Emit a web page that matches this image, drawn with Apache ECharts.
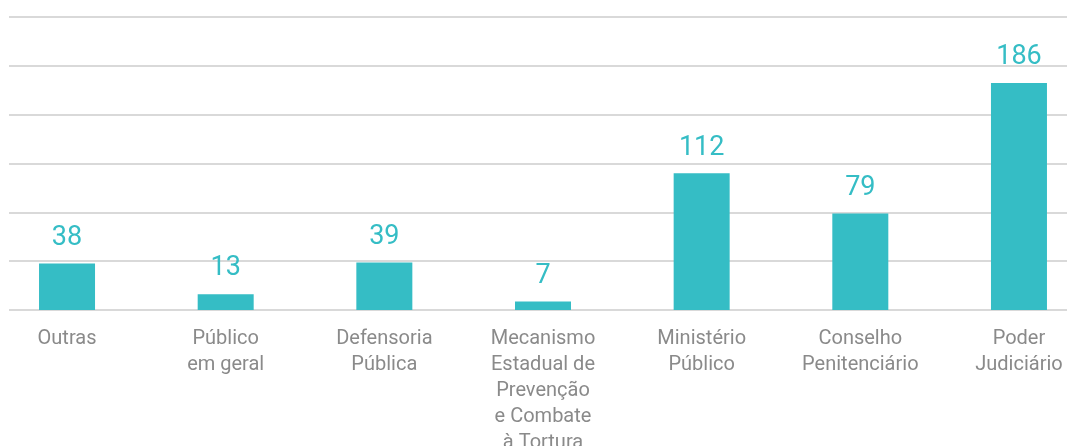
<!DOCTYPE html>
<html>
<head>
<meta charset="utf-8">
<script src="https://cdn.jsdelivr.net/npm/echarts@6/dist/echarts.min.js"></script>
<style>
  html, body { margin: 0; padding: 0; background: #fff; }
  #chart { width: 1067px; height: 446px; }
</style>
</head>
<body>
<div id="chart"></div>
<script>
// data
const categories = [
    'Outras',
    'Público\nem geral',
    'Defensoria\nPública',
    'Mecanismo\nEstadual de\nPrevenção\ne Combate\nà Tortura',
    'Ministério\nPúblico',
    'Conselho\nPenitenciário',
    'Poder\nJudiciário'
];
const values = [38, 13, 39, 7, 112, 79, 186];
const yMin = 0;
const yMax = 240;
const yStep = 40;

const teal = '#35bdc5';

let chart = echarts.init(document.getElementById('chart'), null, { renderer: 'canvas' });

let option = {
    animation: false,
    textStyle: { fontFamily: 'Roboto' },
    grid: [
        // bars: wider than the page so the categories land where they are in the picture
        { left: -12.3, right: -31.3, top: 17, bottom: 136, containLabel: false, outerBoundsMode: 'none' },
        // gridlines only
        { left: 9, right: 0, top: 17, bottom: 136, containLabel: false, outerBoundsMode: 'none' }
    ],
    xAxis: [
        {
            type: 'category',
            gridIndex: 0,
            data: categories,
            axisLine: { show: false },
            axisTick: { show: false },
            axisLabel: {
                interval: 0,
                margin: 16,
                color: '#8a8a8a',
                fontSize: 20,
                lineHeight: 26,
                fontFamily: 'Roboto'
            }
        },
        { type: 'value', gridIndex: 1, show: false, min: 0, max: 1 }
    ],
    yAxis: [
        { type: 'value', gridIndex: 0, min: yMin, max: yMax, interval: yStep, show: false },
        {
            type: 'value',
            gridIndex: 1,
            min: yMin,
            max: yMax,
            interval: yStep,
            axisLine: { show: false },
            axisTick: { show: false },
            axisLabel: { show: false },
            splitLine: { show: true, lineStyle: { color: '#d9d9d9', width: 2 } }
        }
    ],
    series: [
        {
            type: 'bar',
            xAxisIndex: 0,
            yAxisIndex: 0,
            data: values,
            barWidth: 56,
            itemStyle: { color: teal },
            label: {
                show: true,
                position: 'top',
                distance: 12,
                color: teal,
                fontSize: 27,
                fontFamily: 'Roboto'
            }
        }
    ]
};

chart.setOption(option);
</script>
</body>
</html>
